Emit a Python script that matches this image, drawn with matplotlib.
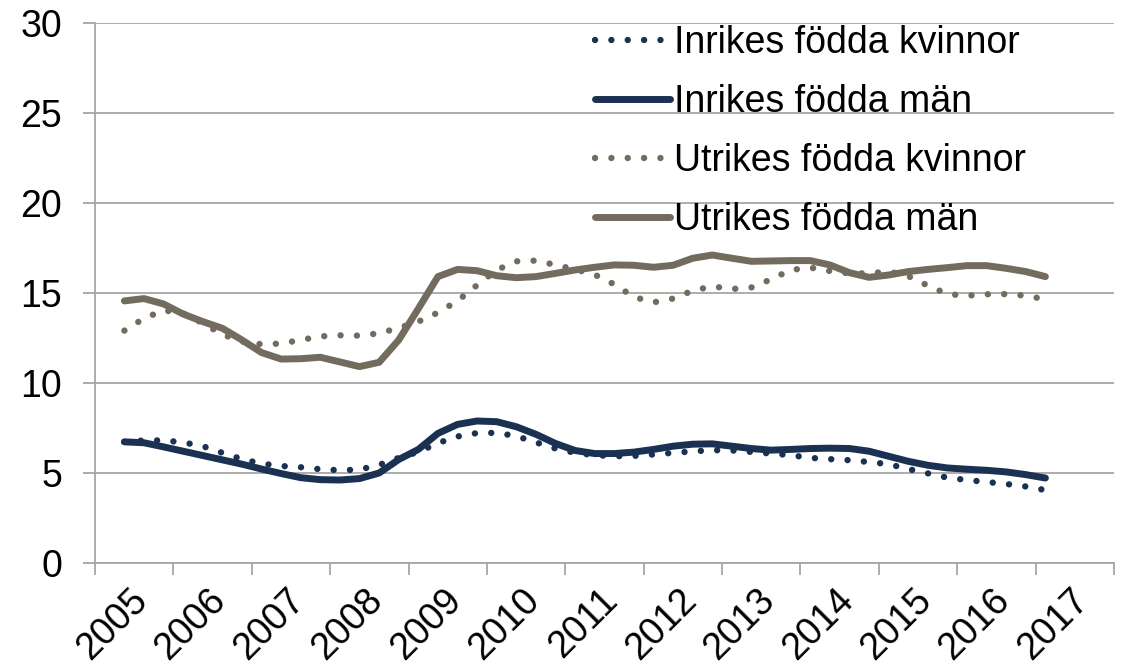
import numpy as np
import matplotlib
matplotlib.use("Agg")
import matplotlib.pyplot as plt
from matplotlib.transforms import ScaledTranslation

plt.rcParams["font.family"] = ["Liberation Sans", "DejaVu Sans"]

# Quarterly values, 2005 Q2 - 2017 Q1
years = list(range(2005, 2018))
n_quarters = 48

inrikes_kvinnor = [6.73, 6.81, 6.81, 6.70, 6.49, 6.12, 5.77, 5.52, 5.39, 5.32, 5.21, 5.15,
                   5.19, 5.45, 5.84, 6.17, 6.66, 7.03, 7.22, 7.23, 7.05, 6.70, 6.36, 6.12,
                   5.99, 5.93, 5.95, 6.03, 6.12, 6.20, 6.27, 6.25, 6.17, 6.08, 5.99, 5.84,
                   5.77, 5.71, 5.61, 5.49, 5.22, 4.98, 4.74, 4.61, 4.50, 4.39, 4.25, 4.05]
inrikes_man = [6.73, 6.68, 6.45, 6.21, 5.97, 5.73, 5.49, 5.22, 4.97, 4.74, 4.63, 4.61,
               4.69, 5.00, 5.75, 6.31, 7.20, 7.70, 7.89, 7.85, 7.57, 7.15, 6.64, 6.25,
               6.08, 6.08, 6.16, 6.31, 6.49, 6.60, 6.62, 6.49, 6.36, 6.27, 6.31, 6.36,
               6.38, 6.36, 6.21, 5.93, 5.65, 5.43, 5.28, 5.21, 5.15, 5.06, 4.91, 4.72]
utrikes_kvinnor = [12.91, 13.59, 14.04, 13.87, 13.32, 12.70, 12.30, 12.15, 12.19, 12.39, 12.59, 12.65,
                   12.63, 12.76, 13.06, 13.41, 13.91, 14.56, 15.44, 16.28, 16.76, 16.80, 16.56, 16.31,
                   16.02, 15.48, 14.78, 14.48, 14.69, 15.13, 15.37, 15.22, 15.31, 15.76, 16.28, 16.41,
                   16.22, 16.09, 16.09, 16.20, 15.94, 15.41, 14.94, 14.85, 14.93, 14.94, 14.85, 14.65]
utrikes_man = [14.56, 14.69, 14.39, 13.83, 13.41, 13.04, 12.39, 11.69, 11.33, 11.35, 11.43, 11.17,
               10.91, 11.15, 12.39, 14.13, 15.91, 16.31, 16.24, 15.96, 15.85, 15.91, 16.09, 16.28,
               16.43, 16.56, 16.54, 16.43, 16.54, 16.93, 17.11, 16.93, 16.76, 16.78, 16.80, 16.80,
               16.56, 16.13, 15.87, 16.00, 16.19, 16.31, 16.41, 16.52, 16.52, 16.37, 16.19, 15.91]

navy = "#1B3152"
grey = "#736B5E"
gridc = "#A6A6A6"

fig = plt.figure(figsize=(11.22, 6.68), dpi=100)
ax = fig.add_axes([95 / 1122, 105 / 668, 1019 / 1122, 540 / 668])

# quarter centres: Q2 2005 sits 1.5 quarters into the 2005 slot
x = years[0] + (np.arange(n_quarters) + 1.5) / 4

dot = (0, (0.01, 2.55))
ax.plot(x, inrikes_kvinnor, color=navy, lw=4.6, linestyle=dot,
        dash_capstyle="round", label="Inrikes födda kvinnor")
ax.plot(x, inrikes_man, color=navy, lw=5, solid_capstyle="round",
        label="Inrikes födda män")
ax.plot(x, utrikes_kvinnor, color=grey, lw=4.6, linestyle=dot,
        dash_capstyle="round", label="Utrikes födda kvinnor")
ax.plot(x, utrikes_man, color=grey, lw=5, solid_capstyle="round",
        label="Utrikes födda män")

ax.set_xlim(years[0], years[-1] + 1)
ax.set_ylim(0, 30)
ax.set_yticks(range(0, 31, 5))
ax.yaxis.grid(True, color=gridc, lw=1.3)
ax.set_axisbelow(True)

for side in ["top", "right"]:
    ax.spines[side].set_visible(False)
for side in ["left", "bottom"]:
    ax.spines[side].set_color(gridc)
    ax.spines[side].set_linewidth(1.3)

ax.tick_params(axis="y", direction="out", length=8.5, width=1.3, color=gridc,
               labelsize=27, pad=15)
ax.set_xticks(list(years) + [years[-1] + 1])
ax.set_xticklabels([])
ax.tick_params(axis="x", which="major", direction="out", length=8.5, width=1.3,
               color=gridc)
ax.set_xticks([yr + 0.5 for yr in years], minor=True)
ax.set_xticklabels([str(yr) for yr in years], minor=True, rotation=45,
                   ha="right", va="center", rotation_mode="anchor")
ax.tick_params(axis="x", which="minor", length=0, labelsize=27, pad=23)
shift = ScaledTranslation(8 / 100, 0, fig.dpi_scale_trans)
for lab in ax.xaxis.get_minorticklabels():
    lab.set_transform(lab.get_transform() + shift)

ax.legend(loc="upper left", bbox_to_anchor=(576 / 1122, 1 - 6 / 668),
          bbox_transform=fig.transFigure, frameon=False, fontsize=27,
          borderpad=0, handlelength=2.0, handletextpad=0.1, labelspacing=0.62)

fig.savefig("out.png", dpi=100)
